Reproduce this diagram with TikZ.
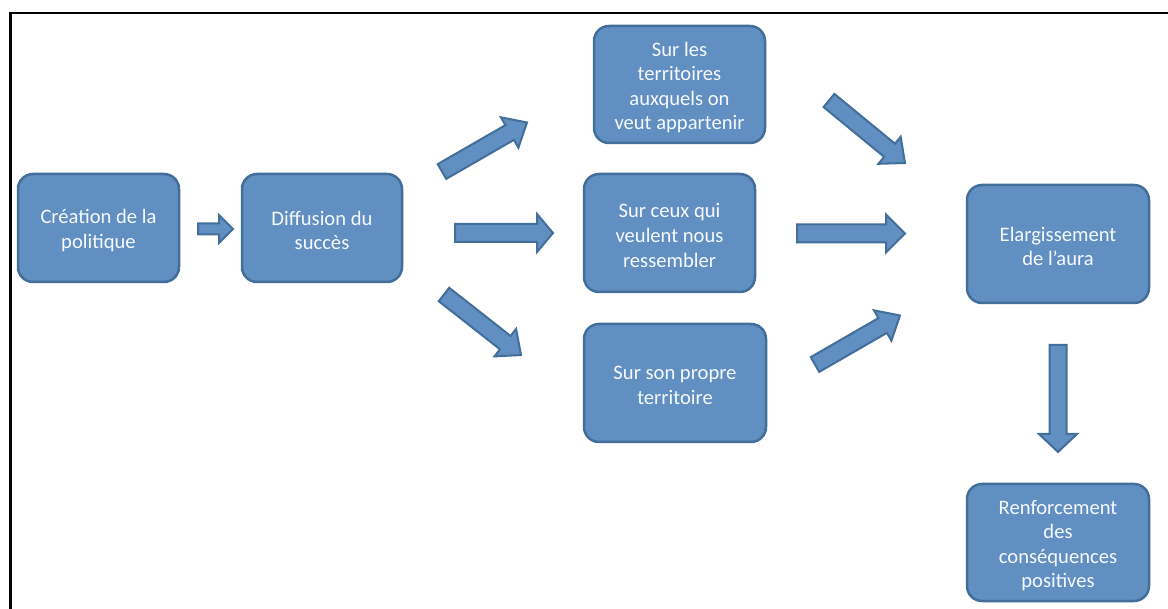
\documentclass[tikz,border=0pt]{standalone}
\usepackage{fontspec}
\setmainfont{Carlito}
\usetikzlibrary{calc}
\definecolor{boxfill}{RGB}{97,143,194}
\definecolor{boxline}{RGB}{66,110,154}
\definecolor{boxtext}{RGB}{246,249,253}
\tikzset{
  stepbox/.style={rectangle, rounded corners=15pt, draw=boxline, fill=boxfill,
    line width=2.5pt, inner sep=0pt},
  boxlabel/.style={text=boxtext, align=center, inner sep=0pt,
    font=\fontsize{20.6}{24.6}\selectfont},
  barrow/.style={draw=boxline, fill=boxfill, line width=2pt, line join=miter}
}
\newcommand{\blockarrow}[5]{%
  \coordinate (ba) at ($(#2)!#5!(#1)$);
  \draw[barrow] ($(#1)!#3!90:(#2)$) -- ($(ba)!#3!90:(#2)$) -- ($(ba)!#4!90:(#2)$)
    -- (#2) -- ($(ba)!#4!-90:(#2)$) -- ($(ba)!#3!-90:(#2)$) -- ($(#1)!#3!-90:(#2)$) -- cycle;
}
\begin{document}
\begin{tikzpicture}[x=1pt,y=-1pt]
\useasboundingbox (0,0) rectangle (1168,609);
\fill[white] (0,0) rectangle (1168,609);
\draw[line width=2.5pt] (10.3,609) -- (10.3,13) -- (1168,13);

\node[stepbox, minimum width=161pt, minimum height=108pt] (crea) at (98.5,228) {};
\node[stepbox, minimum width=160pt, minimum height=108pt] (diff) at (322,228) {};
\node[stepbox, minimum width=171pt, minimum height=117pt] (terr) at (679.5,84.5) {};
\node[stepbox, minimum width=171pt, minimum height=118pt] (ceux) at (669.5,233) {};
\node[stepbox, minimum width=182pt, minimum height=118pt] (prop) at (675,383) {};
\node[stepbox, minimum width=182pt, minimum height=118pt] (aura) at (1058,244) {};
\node[stepbox, minimum width=182pt, minimum height=117pt] (renf) at (1058,542.5) {};

\node[boxlabel] (creat) at ([yshift=-2.5pt]crea.center) {Création de la\\politique};
\node[boxlabel] (difft) at ([yshift=-2.5pt]diff.center) {Diffusion du\\succès};
\node[boxlabel] (terrt) at ([yshift=-3pt]terr.center) {Sur les\\territoires\\auxquels on\\veut appartenir};
\node[boxlabel] (ceuxt) at ([yshift=-2.5pt]ceux.center) {Sur ceux qui\\veulent nous\\ressembler};
\node[boxlabel] (propt) at ([yshift=-2.5pt]prop.center) {Sur son propre\\territoire};
\node[boxlabel] (aurat) at ([yshift=-2.5pt]aura.center) {Elargissement\\de l’aura};
\node[boxlabel] (renft) at ([yshift=-3pt]renf.center) {Renforcement\\des\\conséquences\\positives};

\coordinate (a1t) at (198,229);   \coordinate (a1h) at (233,229);
\coordinate (a2t) at (442,171.5); \coordinate (a2h) at (527,122.5);
\coordinate (a3t) at (455,233);   \coordinate (a3h) at (553,233);
\coordinate (a4t) at (444,294.5); \coordinate (a4h) at (521,355);
\coordinate (a5t) at (829,100.5); \coordinate (a5h) at (905,163);
\coordinate (a6t) at (797,233.5); \coordinate (a6h) at (905,233.5);
\coordinate (a7t) at (815,364.5); \coordinate (a7h) at (900,315.5);
\coordinate (a8t) at (1058,345);  \coordinate (a8h) at (1058,452);

\blockarrow{a1t}{a1h}{5.5pt}{14pt}{14pt}
\blockarrow{a2t}{a2h}{8.5pt}{17.5pt}{20pt}
\blockarrow{a3t}{a3h}{9pt}{19pt}{16pt}
\blockarrow{a4t}{a4h}{8.5pt}{17.5pt}{20pt}
\blockarrow{a5t}{a5h}{8.5pt}{17.5pt}{20pt}
\blockarrow{a6t}{a6h}{9pt}{19pt}{19pt}
\blockarrow{a7t}{a7h}{8.5pt}{17.5pt}{20pt}
\blockarrow{a8t}{a8h}{8.5pt}{19pt}{18pt}
\end{tikzpicture}
\end{document}
